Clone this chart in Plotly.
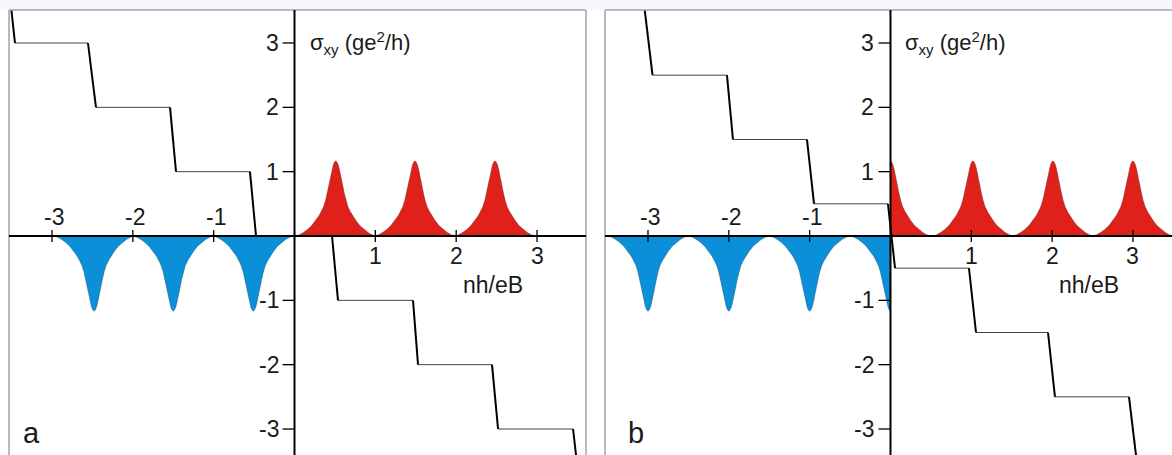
import plotly.graph_objects as go

W, H = 1172, 455

# ---------------- data ----------------
# one peak profile (offset from centre, height in ge^2/h)
PEAK_D = [0.00, 0.015, 0.03, 0.045, 0.06, 0.075, 0.09, 0.105, 0.125, 0.15,
          0.18, 0.21, 0.25, 0.30, 0.35, 0.40, 0.45, 0.50]
PEAK_H = [1.17, 1.15, 1.11, 1.04, 0.96, 0.87, 0.77, 0.67, 0.56, 0.46,
          0.38, 0.31, 0.24, 0.16, 0.10, 0.055, 0.02, 0.0]

# peak centres
A_RED = [0.51, 1.49, 2.48]
A_BLUE = [-2.48, -1.50, -0.51]
B_RED = [0.0, 1.02, 2.01, 3.0]
B_BLUE = [-3.0, -2.0, -1.0, 0.0]

# staircase plateaus
A_LEVELS = [3, 2, 1, 0, -1, -2, -3]
A_START = [-3.458, -2.456, -1.466, -0.476, 0.538, 1.528, 2.518]
A_END = [-2.555, -1.540, -0.551, 0.464, 1.466, 2.443, 3.446]
A_ENTRY = (-3.51, 3.6)
A_EXIT = (3.50, -3.6)

B_LEVELS = [2.5, 1.5, 0.5, -0.5, -1.5, -2.5]
B_START = [-2.944, -1.949, -0.946, 0.056, 1.058, 2.035]
B_END = [-2.023, -1.033, -0.031, 0.971, 1.949, 2.951]
B_ENTRY = (-3.049, 3.6)
B_EXIT = (3.056, -3.6)

X_TICKS = [-3, -2, -1, 1, 2, 3]
Y_TICKS = [-3, -2, -1, 1, 2, 3]
X_TITLE = "nh/eB"
Y_TITLE = ('σ<span style="font-size:15px;baseline-shift:-32%">xy</span> (ge'
           '<span style="font-size:15px;baseline-shift:55%">2</span>/h)')
PANELS = ["a", "b"]

RED = "#e0211b"
BLUE = "#0a8fd8"
FONT = "Arial, 'Liberation Sans', Helvetica, sans-serif"
TXT = "#1a1a1a"

A_XR = [-3.532, 3.606]
B_XR = [-3.532, 3.483]
YR = [-3.404, 3.513]


def peaks(centres, sign, side):
    xs, ys = [], []
    for c in centres:
        px = [c - d for d in reversed(PEAK_D)] + [c + d for d in PEAK_D[1:]]
        py = [sign * h for h in reversed(PEAK_H)] + [sign * h for h in PEAK_H[1:]]
        pts = [(x, y) for x, y in zip(px, py)
               if (side > 0 and x >= -1e-9) or (side < 0 and x <= 1e-9)]
        if not pts:
            continue
        if pts[0][1] != 0:
            pts.insert(0, (pts[0][0], 0))
        if pts[-1][1] != 0:
            pts.append((pts[-1][0], 0))
        xs += [p[0] for p in pts] + [None]
        ys += [p[1] for p in pts] + [None]
    return xs, ys


def stairs(levels, starts, ends, entry, exit_):
    plx, ply, rx, ry = [], [], [], []
    for L, s, e in zip(levels, starts, ends):
        plx += [s, e, None]
        ply += [L, L, None]
    prev = entry
    for L, s, e in zip(levels, starts, ends):
        rx += [prev[0], s, None]
        ry += [prev[1], L, None]
        prev = (e, L)
    rx += [prev[0], exit_[0], None]
    ry += [prev[1], exit_[1], None]
    return plx, ply, rx, ry


fig = go.Figure()

panel_defs = [
    ("x", "y", A_RED, A_BLUE, (A_LEVELS, A_START, A_END, A_ENTRY, A_EXIT)),
    ("x2", "y2", B_RED, B_BLUE, (B_LEVELS, B_START, B_END, B_ENTRY, B_EXIT)),
]

for xa, ya, reds, blues, st in panel_defs:
    bx, by = peaks(blues, -1, -1)
    fig.add_trace(go.Scatter(x=bx, y=by, xaxis=xa, yaxis=ya, mode="lines",
                             fill="toself", fillcolor=BLUE,
                             line=dict(color="rgba(40,60,80,0.5)", width=0.7),
                             hoverinfo="skip", showlegend=False))
    rx_, ry_ = peaks(reds, 1, 1)
    fig.add_trace(go.Scatter(x=rx_, y=ry_, xaxis=xa, yaxis=ya, mode="lines",
                             fill="toself", fillcolor=RED,
                             line=dict(color="rgba(70,40,40,0.5)", width=0.7),
                             hoverinfo="skip", showlegend=False))
    plx, ply, sx, sy = stairs(*st)
    fig.add_trace(go.Scatter(x=plx, y=ply, xaxis=xa, yaxis=ya, mode="lines",
                             line=dict(color="#444444", width=1.0),
                             hoverinfo="skip", showlegend=False))
    fig.add_trace(go.Scatter(x=sx, y=sy, xaxis=xa, yaxis=ya, mode="lines",
                             line=dict(color="black", width=2),
                             hoverinfo="skip", showlegend=False))

ax_common = dict(showgrid=False, zeroline=False, showline=False,
                 showticklabels=False, ticks="", fixedrange=True)
fig.update_layout(
    width=W, height=H,
    margin=dict(l=0, r=0, t=0, b=0),
    paper_bgcolor="white", plot_bgcolor="white",
    font=dict(family=FONT, color=TXT),
    xaxis=dict(domain=[9 / W, 586 / W], range=A_XR, anchor="y", **ax_common),
    yaxis=dict(domain=[0, 445 / H], range=YR, anchor="x", **ax_common),
    xaxis2=dict(domain=[605 / W, 1.0], range=B_XR, anchor="y2", **ax_common),
    yaxis2=dict(domain=[0, 445 / H], range=YR, anchor="x2", **ax_common),
)

shapes = [dict(type="rect", xref="paper", yref="paper", x0=0, x1=1,
               y0=445 / H, y1=1, fillcolor="#f4f8fc", line=dict(width=0),
               layer="below")]
annotations = []
frame = dict(color="#a3a3a3", width=1.5)

for i, (xr, yr) in enumerate([("x", "y"), ("x2", "y2")]):
    xd, yd = xr + " domain", yr + " domain"
    # frame
    shapes.append(dict(type="line", xref=xd, yref=yd, x0=0, x1=0, y0=-0.05, y1=1, line=frame, layer="above"))
    shapes.append(dict(type="line", xref=xd, yref=yd, x0=0, x1=1, y0=1, y1=1, line=frame, layer="above"))
    if i == 0:
        shapes.append(dict(type="line", xref=xd, yref=yd, x0=1, x1=1, y0=-0.05, y1=1, line=frame, layer="above"))
    # axes
    shapes.append(dict(type="line", xref=xr, yref=yd, x0=0, x1=0, y0=-0.05, y1=1,
                       line=dict(color="black", width=2), layer="above"))
    shapes.append(dict(type="line", xref=xd, yref=yr, x0=0, x1=1, y0=0, y1=0,
                       line=dict(color="black", width=2), layer="above"))
    # ticks + labels
    for v in Y_TICKS:
        shapes.append(dict(type="line", xref=xr, yref=yr, xsizemode="pixel", xanchor=0,
                           x0=-12, x1=0, y0=v, y1=v, line=dict(color="black", width=1.3),
                           layer="above"))
        annotations.append(dict(xref=xr, yref=yr, x=0, y=v, text=str(v), showarrow=False,
                                xanchor="right", yanchor="middle", xshift=-14,
                                font=dict(size=23, family=FONT, color=TXT)))
    for v in X_TICKS:
        shapes.append(dict(type="line", xref=xr, yref=yr, ysizemode="pixel", yanchor=0,
                           x0=v, x1=v, y0=-6, y1=6, line=dict(color="black", width=1.3),
                           layer="above"))
        annotations.append(dict(xref=xr, yref=yr, x=v, y=0, text=str(v), showarrow=False,
                                xanchor="center", yanchor="middle",
                                xshift=2 if v < 0 else 0,
                                yshift=19 if v < 0 else -20,
                                font=dict(size=23, family=FONT, color=TXT)))
    # titles
    annotations.append(dict(xref=xr, yref=yr, x=0, y=3, text=Y_TITLE, showarrow=False,
                            xanchor="left", yanchor="middle", xshift=13,
                            font=dict(size=22, family=FONT, color=TXT)))
    annotations.append(dict(xref=xr, yref=yr, x=2.46, y=0, text=X_TITLE, showarrow=False,
                            xanchor="center", yanchor="middle", yshift=-49,
                            font=dict(size=23, family=FONT, color=TXT)))
    # panel letter
    annotations.append(dict(xref=xd, yref="paper", x=0, y=22 / H, text=PANELS[i],
                            showarrow=False, xanchor="left", yanchor="middle",
                            xshift=12 if i == 0 else 21,
                            font=dict(size=29, family=FONT, color=TXT)))

fig.update_layout(shapes=shapes, annotations=annotations)
fig.write_html("out.html", config={"displayModeBar": False},
               post_script="document.body.style.margin='0px';document.body.style.padding='0px';")
